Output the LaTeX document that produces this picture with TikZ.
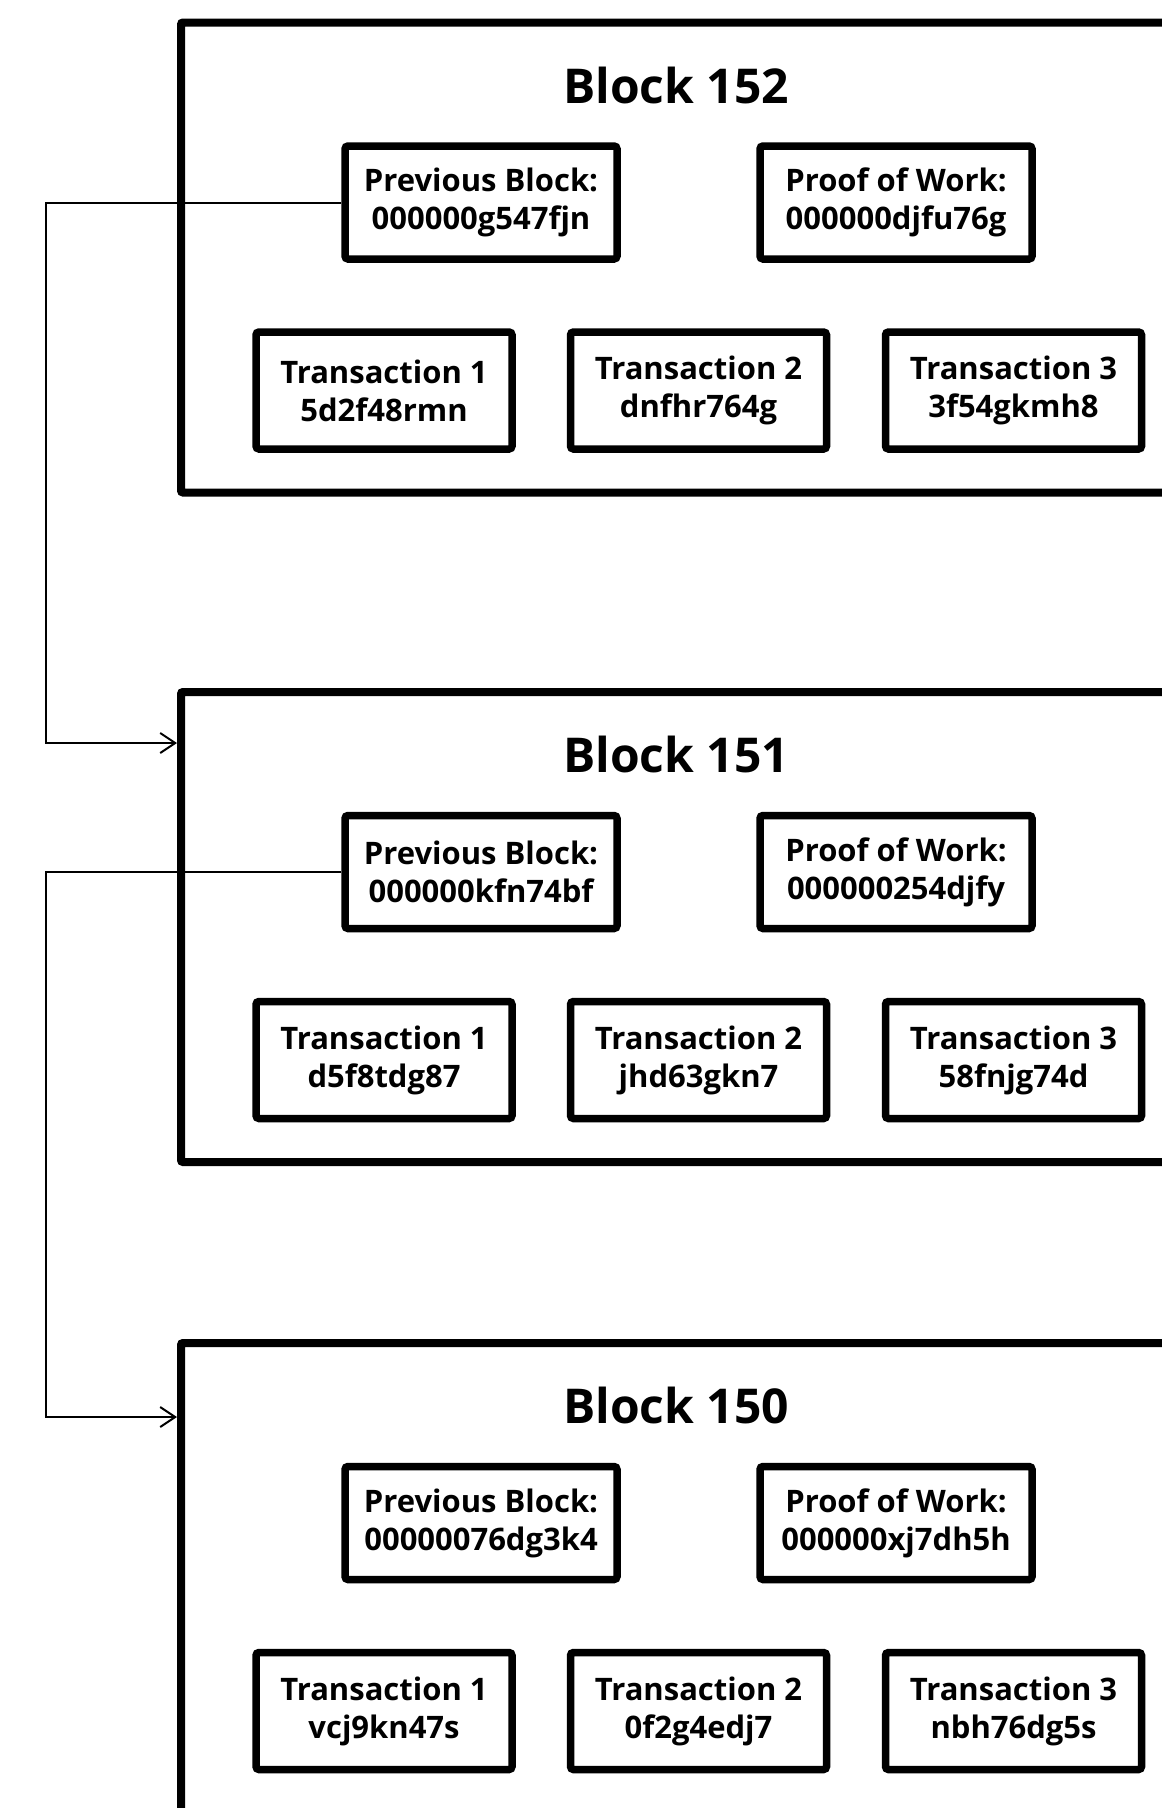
\documentclass[tikz,border=0pt]{standalone}
\usepackage{fontspec}
\setmainfont{Open Sans}
\usetikzlibrary{arrows.meta}
\begin{document}
\begin{tikzpicture}[x=1pt,y=-1pt,
  block/.style={draw, line width=8pt, rounded corners=2pt, minimum width=1069pt, minimum height=470pt, inner sep=0pt},
  title/.style={anchor=base, font=\fontsize{48}{58}\selectfont\bfseries},
  field/.style={draw, line width=7.5pt, rounded corners=3pt, align=center, minimum width=272pt, minimum height=113pt, inner sep=0pt, font=\fontsize{31}{38}\selectfont\bfseries},
  txbox/.style={field, minimum width=256pt, minimum height=117pt},
  link/.style={line width=2pt, -{Straight Barb[length=15pt,width=20pt]}}]
\useasboundingbox (0,0) rectangle (1162,1808);
\fill[white] (0,0) rectangle (1162,1808);
\clip (0,0) rectangle (1162,1808);
\node[block] (blk152) at (715.5,257.5) {};
\node[title] (title152) at (676,103) {Block 152};
\node[field] (prev152) at (481,202.5) {Previous Block:\\000000g547fjn};
\node[field] (pow152) at (896,202.5) {Proof of Work:\\000000djfu76g};
\node[txbox] (tx152a) at (384,390.5) {Transaction 1\\5d2f48rmn};
\node[txbox] (tx152b) at (698.5,390.5) {Transaction 2\\dnfhr764g};
\node[txbox] (tx152c) at (1013.5,390.5) {Transaction 3\\3f54gkmh8};
\node[block] (blk151) at (715.5,927) {};
\node[title] (title151) at (676,772.5) {Block 151};
\node[field] (prev151) at (481,872) {Previous Block:\\000000kfn74bf};
\node[field] (pow151) at (896,872) {Proof of Work:\\000000254djfy};
\node[txbox] (tx151a) at (384,1060) {Transaction 1\\d5f8tdg87};
\node[txbox] (tx151b) at (698.5,1060) {Transaction 2\\jhd63gkn7};
\node[txbox] (tx151c) at (1013.5,1060) {Transaction 3\\58fnjg74d};
\node[block] (blk150) at (715.5,1578) {};
\node[title] (title150) at (676,1423.5) {Block 150};
\node[field] (prev150) at (481,1523) {Previous Block:\\00000076dg3k4};
\node[field] (pow150) at (896,1523) {Proof of Work:\\000000xj7dh5h};
\node[txbox] (tx150a) at (384,1711) {Transaction 1\\vcj9kn47s};
\node[txbox] (tx150b) at (698.5,1711) {Transaction 2\\0f2g4edj7};
\node[txbox] (tx150c) at (1013.5,1711) {Transaction 3\\nbh76dg5s};
\coordinate (in151) at (177,743);
\coordinate (in150) at (177,1417);
\draw[link] (prev152.west) -- ++(-295,0) |- (in151);
\draw[link] (prev151.west) -- ++(-295,0) |- (in150);
\end{tikzpicture}
\end{document}
